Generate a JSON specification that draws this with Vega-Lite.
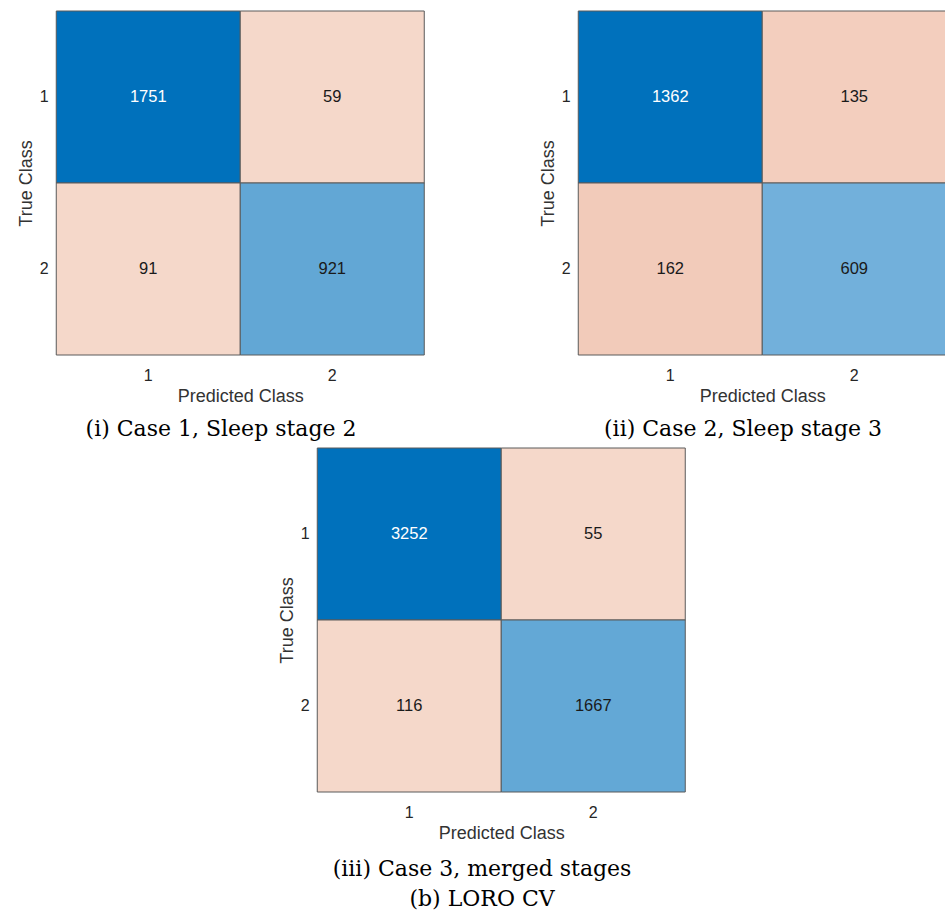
{
  "$schema": "https://vega.github.io/schema/vega-lite/v6.json",
  "padding": {"left": 17, "top": 10, "right": 0, "bottom": 0},
  "background": "white",
  "config": {
    "view": {"stroke": null},
    "axis": {"labelFont": "Liberation Sans", "titleFont": "Liberation Sans", "labelFontSize": 16, "titleFontSize": 18, "titleFontWeight": "normal", "labelColor": "#262626", "titleColor": "#333333", "ticks": false, "tickSize": 0, "domain": false, "grid": false},
    "axisX": {"labelPadding": 12, "titlePadding": 4, "labelAngle": 0},
    "axisY": {"labelPadding": 8, "titlePadding": 4, "labelAngle": 0},
    "title": {"orient": "bottom", "frame": "bounds", "font": "DejaVu Serif", "fontSize": 22, "fontWeight": "normal", "color": "#000000", "offset": 14, "subtitleFont": "DejaVu Serif", "subtitleFontSize": 22, "subtitleColor": "#000000", "subtitlePadding": 8},
    "text": {"font": "Liberation Sans"}
  },
  "vconcat": [
    {
      "hconcat": [
        {
          "width": 368, "height": 344,
          "data": {"values": [
            {"pred": 1, "actual": 1, "n": 1751},
            {"pred": 2, "actual": 1, "n": 59},
            {"pred": 1, "actual": 2, "n": 91},
            {"pred": 2, "actual": 2, "n": 921}
          ]},
          "title": {"text": "(i) Case 1, Sleep stage 2"},
          "encoding": {
            "x": {"field": "pred", "type": "ordinal", "scale": {"paddingInner": 0, "paddingOuter": 0}, "axis": {"title": "Predicted Class"}},
            "y": {"field": "actual", "type": "ordinal", "scale": {"paddingInner": 0, "paddingOuter": 0}, "axis": {"title": "True Class"}}
          },
          "layer": [
            {"mark": {"type": "rect", "stroke": "#5a5a5a", "strokeWidth": 1},
             "encoding": {"color": {"field": "n", "type": "nominal", "legend": null, "scale": {"domain": [1751, 59, 91, 921], "range": ["#0071BC", "#F5D8CA", "#F5D8CA", "#62A7D5"]}}}},
            {"mark": {"type": "text", "fontSize": 16.5},
             "encoding": {"text": {"field": "n", "type": "nominal"}, "color": {"condition": {"test": "datum.pred == 1 && datum.actual == 1", "value": "#ffffff"}, "value": "#1a1a1a"}}}
          ]
        },
        {
          "width": 368, "height": 344,
          "data": {"values": [
            {"pred": 1, "actual": 1, "n": 1362},
            {"pred": 2, "actual": 1, "n": 135},
            {"pred": 1, "actual": 2, "n": 162},
            {"pred": 2, "actual": 2, "n": 609}
          ]},
          "title": {"text": "(ii) Case 2, Sleep stage 3"},
          "encoding": {
            "x": {"field": "pred", "type": "ordinal", "scale": {"paddingInner": 0, "paddingOuter": 0}, "axis": {"title": "Predicted Class"}},
            "y": {"field": "actual", "type": "ordinal", "scale": {"paddingInner": 0, "paddingOuter": 0}, "axis": {"title": "True Class"}}
          },
          "layer": [
            {"mark": {"type": "rect", "stroke": "#5a5a5a", "strokeWidth": 1},
             "encoding": {"color": {"field": "n", "type": "nominal", "legend": null, "scale": {"domain": [1362, 135, 162, 609], "range": ["#0071BC", "#F3CEBE", "#F2CBBA", "#72B0DB"]}}}},
            {"mark": {"type": "text", "fontSize": 16.5},
             "encoding": {"text": {"field": "n", "type": "nominal"}, "color": {"condition": {"test": "datum.pred == 1 && datum.actual == 1", "value": "#ffffff"}, "value": "#1a1a1a"}}}
          ]
        }
      ],
      "spacing": 114,
      "resolve": {"scale": {"color": "independent"}}
    },
    {
      "width": 368, "height": 344,
      "data": {"values": [
        {"pred": 1, "actual": 1, "n": 3252},
        {"pred": 2, "actual": 1, "n": 55},
        {"pred": 1, "actual": 2, "n": 116},
        {"pred": 2, "actual": 2, "n": 1667}
      ]},
      "title": {"text": "(iii) Case 3, merged stages", "subtitle": "(b) LORO CV", "offset": 17},
      "encoding": {
        "x": {"field": "pred", "type": "ordinal", "scale": {"paddingInner": 0, "paddingOuter": 0}, "axis": {"title": "Predicted Class"}},
        "y": {"field": "actual", "type": "ordinal", "scale": {"paddingInner": 0, "paddingOuter": 0}, "axis": {"title": "True Class"}}
      },
      "layer": [
        {"mark": {"type": "rect", "stroke": "#5a5a5a", "strokeWidth": 1},
         "encoding": {"color": {"field": "n", "type": "nominal", "legend": null, "scale": {"domain": [3252, 55, 116, 1667], "range": ["#0071BC", "#F5D8CA", "#F5D8CA", "#63A8D6"]}}}},
        {"mark": {"type": "text", "fontSize": 16.5},
         "encoding": {"text": {"field": "n", "type": "nominal"}, "color": {"condition": {"test": "datum.pred == 1 && datum.actual == 1", "value": "#ffffff"}, "value": "#1a1a1a"}}}
      ]
    }
  ],
  "spacing": 7,
  "center": true,
  "resolve": {"scale": {"color": "independent"}}
}
